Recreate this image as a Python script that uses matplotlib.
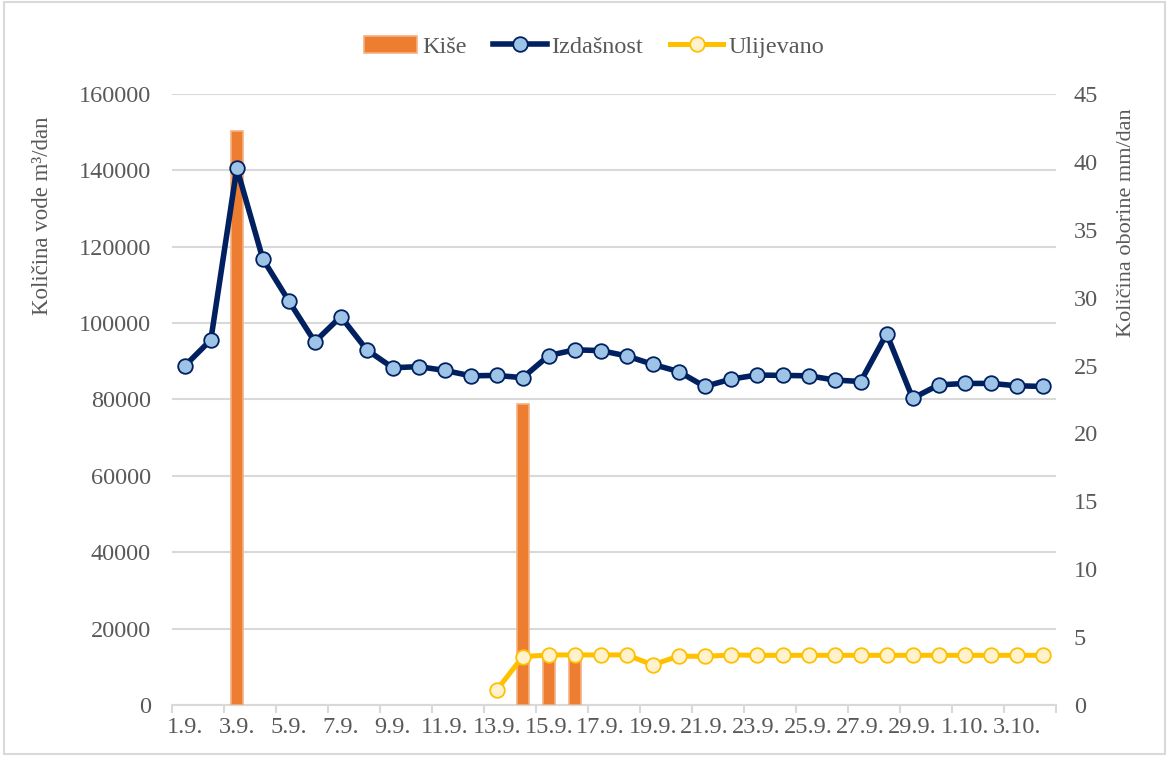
import matplotlib
matplotlib.use("Agg")
import matplotlib.pyplot as plt
import numpy as np
from matplotlib.patches import Rectangle

# dates 1.9. - 4.10.
dani = [f"{d}.9." for d in range(1, 31)] + [f"{d}.10." for d in range(1, 5)]

izdasnost = [88800, 95600, 140600, 116800, 105800, 95100, 101700, 93000, 88300, 88600,
             87600, 86200, 86300, 85700, 91500, 93000, 92800, 91400, 89200, 87300,
             83400, 85300, 86400, 86300, 86200, 85100, 84700, 97200, 80300, 83800,
             84200, 84200, 83600, 83400]

nan = np.nan
ulijevano = [nan] * 12 + [3900, 12650, 13100, 13100, 13100, 13100, 10500, 12800,
                          12700, 13100, 13000, 13000, 13000, 13000, 13000, 13000,
                          13000, 13000, 13000, 13000, 13000, 13000]

kise = [nan, nan, 42.3] + [nan] * 10 + [22.2, 3.6, 3.6] + [nan] * 18

grey = "#595959"
grid_c = "#d9d9d9"
fs = 17.5
plt.rcParams['font.family'] = ['Liberation Serif', 'DejaVu Serif']

fig = plt.figure(figsize=(11.69, 7.58), dpi=100)
fig.patches.append(Rectangle((0.003, 0.005), 0.994, 0.992, transform=fig.transFigure,
                             fill=False, edgecolor=grid_c, linewidth=1.5))

ax = fig.add_axes([0.147, 0.070, 0.756, 0.806])
x = np.arange(len(dani))

ax.set_ylim(0, 160000)
ax.set_yticks(np.arange(0, 160001, 20000))
ax.grid(axis='y', color=grid_c, linewidth=1.5)
ax.set_axisbelow(True)
ax.set_xlim(-0.5, len(dani) - 0.5)
ax.set_xticks(x[::2])
ax.set_xticklabels(dani[::2])
ax.set_xticks(np.arange(-0.5, len(dani), 2), minor=True)
ax.tick_params(axis='x', which='major', length=0, pad=9, labelsize=fs, labelcolor=grey)
ax.tick_params(axis='x', which='minor', length=6, width=1.5, color=grid_c)
ax.tick_params(axis='y', length=0, pad=15, labelsize=fs, labelcolor=grey)
for s in ['top', 'right', 'left']:
    ax.spines[s].set_visible(False)
ax.spines['bottom'].set_color(grid_c)
ax.spines['bottom'].set_linewidth(1.5)
ax.set_ylabel("Količina vode m³/dan", fontsize=16.5, color=grey)
ax.yaxis.set_label_coords(-0.135, 0.80)

# rain bars on right axis
ax2 = ax.twinx()
bars = ax2.bar(x, kise, width=0.45, color="#ED7D31", edgecolor="#F4B183", linewidth=1.2,
               label="Kiše")
ax2.set_ylim(0, 45)
ax2.set_yticks(np.arange(0, 46, 5))
ax2.tick_params(axis='y', length=0, pad=13, labelsize=fs, labelcolor=grey)
for s in ax2.spines.values():
    s.set_visible(False)
ax2.set_ylabel("Količina oborine mm/dan", fontsize=16, color=grey)
ax2.yaxis.set_label_coords(1.07, 0.79)

# lines on top
ax3 = ax.twinx()
ax3.set_ylim(0, 160000)
ax3.set_yticks([])
for s in ax3.spines.values():
    s.set_visible(False)
l1, = ax3.plot(x, izdasnost, color="#002060", linewidth=4, marker='o', markersize=10.5,
               markerfacecolor="#9DC3E6", markeredgecolor="#002060", markeredgewidth=1.3,
               label="Izdašnost")
l2, = ax3.plot(x, ulijevano, color="#FFC000", linewidth=3.6, marker='o', markersize=10.5,
               markerfacecolor="#FFF2CC", markeredgecolor="#FFC000", markeredgewidth=1.3,
               label="Ulijevano")

fig.legend(handles=[bars, l1, l2], loc='center', bbox_to_anchor=(0.508, 0.938), ncol=3,
           frameon=False, fontsize=fs, labelcolor=grey, handlelength=2.2,
           handletextpad=0.2, columnspacing=1.1)

fig.savefig("out.png", dpi=100)
